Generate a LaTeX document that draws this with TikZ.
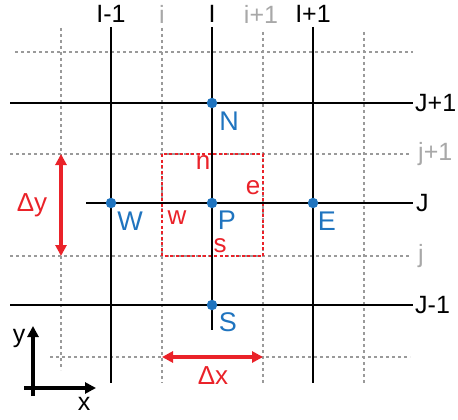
\documentclass[tikz,border=0pt]{standalone}
\usepackage{fontspec}
\setmainfont{Liberation Sans}
\usetikzlibrary{arrows.meta}
\definecolor{cblue}{HTML}{1F74BF}
\definecolor{cred}{HTML}{EA2229}
\definecolor{lgray}{HTML}{A8A8A8}
\definecolor{dgray}{HTML}{9A9A9A}
\begin{document}
\begin{tikzpicture}[x=1pt,y=-1pt,
  solid line/.style={black,line width=2.9pt},
  grid dot/.style={dgray,line width=2pt,dash pattern=on 3pt off 3pt},
  cv box/.style={cred,line width=2pt,dash pattern=on 3pt off 2.5pt},
  bdot/.style={circle,fill=cblue,inner sep=0pt,minimum size=10.5pt},
  blab/.style={text=cblue,font=\fontsize{27}{27}\selectfont,inner sep=0pt},
  rlab/.style={text=cred,font=\fontsize{26}{26}\selectfont,inner sep=0pt},
  klab/.style={text=black,font=\fontsize{25}{25}\selectfont,inner sep=0pt},
  glab/.style={text=lgray,font=\fontsize{25}{25}\selectfont,inner sep=0pt},
  darrow/.style={cred,line width=3.4pt,{Triangle[length=11pt,width=11pt]}-{Triangle[length=11pt,width=11pt]}},
  axarrow/.style={black,line width=3.6pt,-{Triangle[length=11pt,width=11pt]}}]
\useasboundingbox (0,0) rectangle (458,420);
% dotted grid (minor)
\coordinate (v1t) at (61,28);  \coordinate (v1b) at (61,370);
\coordinate (v2t) at (162,28); \coordinate (v2b) at (162,383);
\coordinate (v3t) at (263,32); \coordinate (v3b) at (263,383);
\coordinate (v4t) at (364,32); \coordinate (v4b) at (364,383);
\coordinate (h1l) at (15,52);  \coordinate (h1r) at (413,52);
\coordinate (h2l) at (10,154); \coordinate (h2r) at (410,154);
\coordinate (h3l) at (10,256); \coordinate (h3r) at (410,256);
\coordinate (h4l) at (50,357); \coordinate (h4r) at (410,357);
\foreach \a/\b in {v1t/v1b,v2t/v2b,v3t/v3b,v4t/v4b,h1l/h1r,h2l/h2r,h3l/h3r,h4l/h4r}
  \draw[grid dot] (\a) -- (\b);
% control volume
\draw[cv box] (162,154) rectangle (263,256);
% solid grid
\coordinate (A1t) at (111,27); \coordinate (A1b) at (111,383);
\coordinate (A2t) at (212,27); \coordinate (A2b) at (212,330);
\coordinate (A3t) at (313,27); \coordinate (A3b) at (313,383);
\coordinate (B1l) at (10,103); \coordinate (B1r) at (413,103);
\coordinate (B2l) at (86,203); \coordinate (B2r) at (413,203);
\coordinate (B3l) at (10,305); \coordinate (B3r) at (413,305);
\foreach \a/\b in {A1t/A1b,A2t/A2b,A3t/A3b,B1l/B1r,B2l/B2r,B3l/B3r}
  \draw[solid line] (\a) -- (\b);
% nodes
\node[bdot] (N) at (212,103) {};
\node[bdot] (W) at (111,203) {};
\node[bdot] (P) at (212,203) {};
\node[bdot] (E) at (313,203) {};
\node[bdot] (S) at (212,305) {};
\node[blab] (Nl) at (229,121) {N};
\node[blab] (Wl) at (130,221) {W};
\node[blab] (Pl) at (227,220) {P};
\node[blab] (El) at (327,221) {E};
\node[blab] (Sl) at (228,322) {S};
% face labels
\node[rlab] (nl) at (203,163) {n};
\node[rlab] (el) at (253,188) {e};
\node[rlab] (wl) at (177,218) {w};
\node[rlab] (sl) at (220,246) {s};
% column labels
\node[klab] (I1) at (111,14) {I-1};
\node[glab] (i0) at (162,14) {i};
\node[klab] (I0) at (212,14) {I};
\node[glab] (i1) at (261,14) {i+1};
\node[klab] (I2) at (313,14) {I+1};
% row labels
\node[klab,anchor=west] (J2) at (415,103) {J+1};
\node[glab,anchor=west] (j1) at (418,154) {j+1};
\node[klab,anchor=west] (J0) at (416,203) {J};
\node[glab,anchor=west] (j0) at (418,256) {j};
\node[klab,anchor=west] (J1) at (415,305) {J-1};
% delta arrows
\coordinate (dyt) at (61,154); \coordinate (dyb) at (61,256);
\draw[darrow] (dyt) -- (dyb);
\node[rlab] (dy) at (32,205) {Δy};
\coordinate (dxl) at (162,357); \coordinate (dxr) at (263,357);
\draw[darrow] (dxl) -- (dxr);
\node[rlab] (dx) at (213,376) {Δx};
% axes
\coordinate (o) at (33,396); \coordinate (yt) at (33,326);
\coordinate (ol) at (24,388); \coordinate (xr) at (96,388);
\draw[axarrow] (o) -- (yt);
\draw[axarrow] (ol) -- (xr);
\node[klab] (yl) at (19,338) {y};
\node[klab] (xl) at (84,404) {x};
\end{tikzpicture}
\end{document}
